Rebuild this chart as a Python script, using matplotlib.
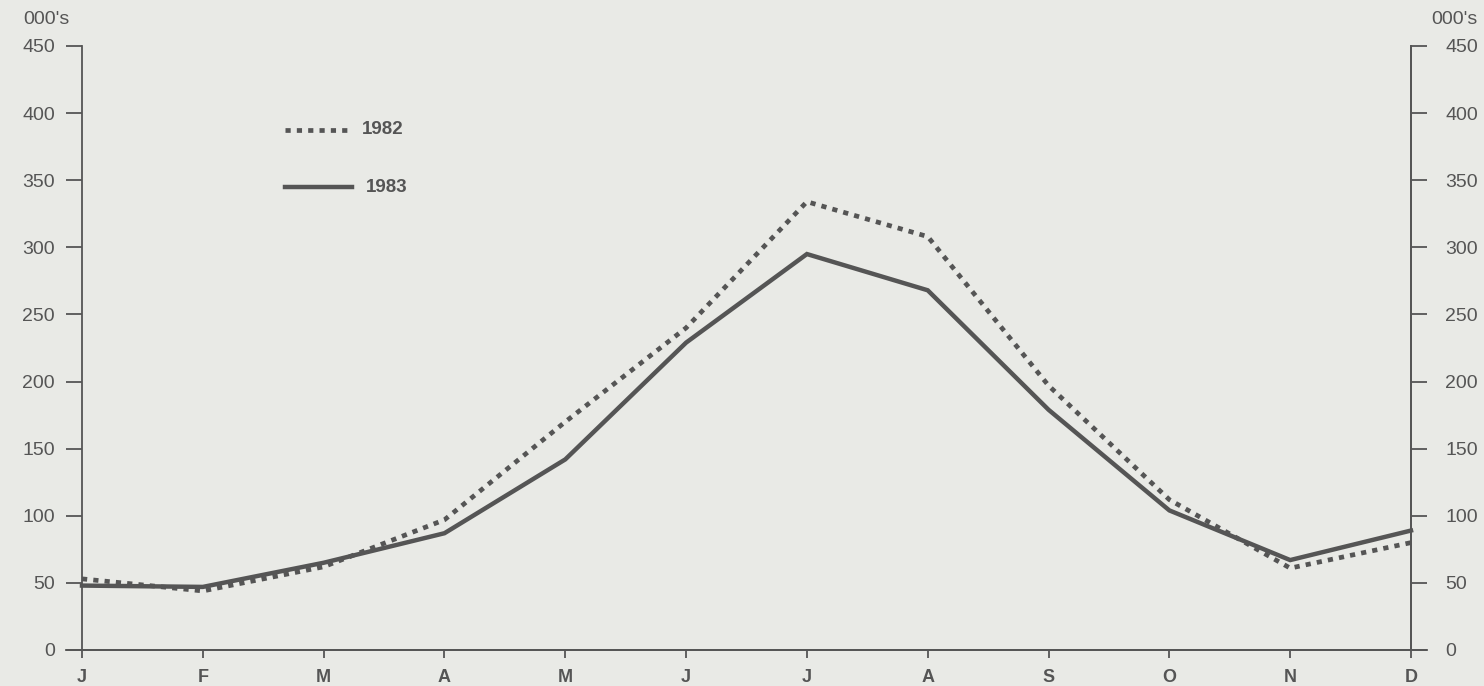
import matplotlib
matplotlib.use("Agg")
import matplotlib.pyplot as plt

months = ["J", "F", "M", "A", "M", "J", "J", "A", "S", "O", "N", "D"]
values_1982 = [53, 44, 62, 97, 170, 240, 334, 308, 197, 112, 61, 80]
values_1983 = [48, 47, 65, 87, 142, 229, 295, 268, 179, 104, 67, 89]
yticks = [0, 50, 100, 150, 200, 250, 300, 350, 400, 450]
series_labels = ["1982", "1983"]

bg = "#e9eae6"
lc = "#555555"
tc = "#555555"
plt.rcParams['font.family'] = ['Liberation Sans', 'DejaVu Sans']

fig = plt.figure(figsize=(14.84, 6.86), dpi=100, facecolor=bg)
ax = fig.add_axes([82/1484, 36/686, (1411-82)/1484, (650-46)/686])
ax.set_facecolor(bg)

x = list(range(len(months)))
ax.plot(x, values_1982, color=lc, lw=3.4, linestyle=(0, (1.1, 1.3)), solid_capstyle='butt',
        dash_capstyle='butt', clip_on=False)
ax.plot(x, values_1983, color=lc, lw=3.2, solid_joinstyle='miter', clip_on=False)

ax.set_xlim(0, 11)
ax.set_ylim(0, 450)
ax.set_xticks(x)
ax.set_xticklabels(months, fontweight='bold', fontsize=13, color=tc)
ax.set_yticks(yticks)
ax.set_yticklabels([str(v) for v in yticks], fontsize=14, color=tc)

for s in ['top']:
    ax.spines[s].set_visible(False)
for s in ['left', 'right', 'bottom']:
    ax.spines[s].set_color(lc)
    ax.spines[s].set_linewidth(1.3)

ax.tick_params(axis='y', direction='out', length=11.5, width=1.3, color=lc, pad=8)
ax.tick_params(axis='x', direction='out', length=6, width=1.3, color=lc, pad=8)

ax2 = ax.twinx()
ax2.set_ylim(0, 450)
ax2.set_yticks(yticks)
ax2.set_yticklabels([str(v) for v in yticks], fontsize=14, color=tc)
ax2.tick_params(axis='y', direction='out', length=11.5, width=1.3, color=lc, pad=13)
for s in ['top', 'left', 'bottom']:
    ax2.spines[s].set_visible(False)
ax2.spines['right'].set_color(lc)
ax2.spines['right'].set_linewidth(1.3)

# extend bottom spine to include outward 0 ticks
ax.plot([-16/120.8, 11 + 16/120.8], [0, 0], color=lc, lw=1.3, clip_on=False)

fig.text(23/1484, 1 - 20/686, "000's", fontsize=14, color=tc, va='center', ha='left')
fig.text(1478/1484, 1 - 20/686, "000's", fontsize=14, color=tc, va='center', ha='right')

# legend
def fx(px):
    return px / 1484
def fy(py):
    return 1 - py / 686
fig.add_artist(plt.Line2D([fx(285), fx(350)], [fy(130), fy(130)], color=lc, lw=3.4,
                          linestyle=(0, (1.1, 1.3)), dash_capstyle='butt'))
fig.add_artist(plt.Line2D([fx(285), fx(352)], [fy(187), fy(187)], color=lc, lw=3.2))
fig.text(fx(362), fy(130), series_labels[0], fontsize=13.5, fontweight='bold', color=tc, va='center')
fig.text(fx(366), fy(187), series_labels[1], fontsize=13.5, fontweight='bold', color=tc, va='center')

fig.savefig("out.png", dpi=100, facecolor=bg)
